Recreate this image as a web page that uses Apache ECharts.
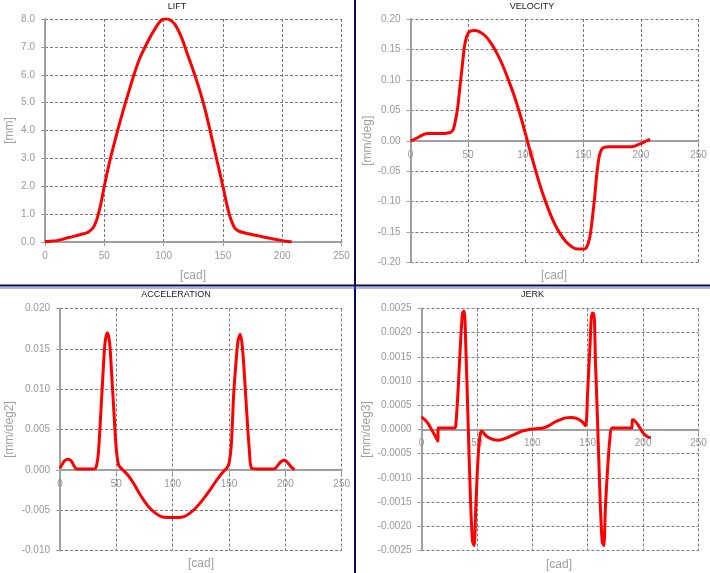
<!DOCTYPE html>
<html>
<head>
<meta charset="utf-8">
<script src="https://cdn.jsdelivr.net/npm/echarts@6/dist/echarts.min.js"></script>
<style>
html,body{margin:0;padding:0;background:#fff;}
#chart{width:710px;height:573px;}
</style>
</head>
<body>
<div id="chart"></div>
<script>
// ---- data ----
const liftCad = [0,5,10,15,20,25,30,35,37,40,42,44,47,50,55,60,65,70,75,80,85,90,95,98,100,103,106,110,115,120,125,130,135,140,145,150,153,156,158,160,163,166,170,175,180,185,190,195,200,205,208];
const liftMm  = [0.02,0.03,0.05,0.1,0.16,0.21,0.27,0.33,0.37,0.48,0.62,0.85,1.35,2.0,2.97,3.8,4.58,5.3,6.0,6.6,7.05,7.45,7.8,7.95,8.0,8.0,7.95,7.78,7.35,6.75,6.15,5.5,4.75,3.85,2.92,2.0,1.4,0.9,0.68,0.5,0.4,0.35,0.31,0.26,0.22,0.17,0.13,0.09,0.05,0.02,0.01];

const velCad = [0,3,6,9,12,15,20,25,30,33,35,37,39,41,43,45,47,49,51,55,60,65,70,75,80,85,90,95,100,105,110,115,120,125,130,135,140,145,148,150,152,154,156,158,160,162,164,166,168,172,180,190,194,198,202,205,208];
const velVal = [0,0.002,0.005,0.008,0.011,0.012,0.012,0.012,0.012,0.013,0.014,0.018,0.033,0.055,0.09,0.124,0.157,0.172,0.179,0.181,0.179,0.172,0.16,0.144,0.124,0.1,0.074,0.044,0.01,-0.025,-0.058,-0.088,-0.114,-0.136,-0.153,-0.166,-0.174,-0.178,-0.178,-0.178,-0.177,-0.17,-0.155,-0.125,-0.09,-0.05,-0.024,-0.014,-0.011,-0.01,-0.01,-0.01,-0.009,-0.006,-0.003,0.0,0.002];

const accCad = [0,2,4,7,10,12,15,20,25,30,32,34,36,38,40,42,44,46,48,50,52,55,60,65,70,75,80,85,90,95,100,105,110,115,120,125,130,135,140,145,148,150,152,154,156,158,160,162,164,166,168,170,175,180,185,190,193,196,199,202,205,208];
const accVal = [0.0002,0.0007,0.0011,0.0013,0.0011,0.0006,0.0001,0.0001,0.0001,0.0001,0.0003,0.002,0.0065,0.0115,0.0158,0.017,0.0158,0.0115,0.0068,0.0025,0.0006,0.0001,-0.0006,-0.0016,-0.0028,-0.0039,-0.0048,-0.0054,-0.0058,-0.0059,-0.0059,-0.0059,-0.0058,-0.0054,-0.0048,-0.004,-0.0031,-0.0021,-0.0011,-0.0002,0.0002,0.0008,0.003,0.009,0.013,0.016,0.0168,0.015,0.011,0.0065,0.0025,0.0002,0.0001,0.0001,0.0001,0.0001,0.0005,0.001,0.0012,0.0009,0.0004,0.0];

const jerkCad = [0,3,6,9,12,14.8,15,20,25,30,31,33,35,37,38.5,40,42,44,46,47.5,49,51,53,54.5,57,60,65,70,75,80,85,90,95,100,105,110,115,120,125,130,135,140,145,148,150,152,154,155.5,157,159,161,163,164.5,166,168,170,172,180,190,190.2,192,195,198,201,204,207];
const jerkVal = [0.00026,0.0002,0.00012,0.0,-0.00012,-0.00024,0.00003,0.00003,0.00003,0.00003,0.0001,0.0008,0.0017,0.0024,0.00245,0.0017,0.0002,-0.0013,-0.0023,-0.0024,-0.0016,-0.0006,-0.0001,-0.00003,-0.0001,-0.00016,-0.00021,-0.00022,-0.00019,-0.00014,-0.00009,-0.00004,-0.00001,0.00001,0.00002,0.00003,0.00008,0.00015,0.0002,0.00024,0.00025,0.00023,0.00016,0.00008,0.0008,0.0017,0.0024,0.0024,0.0014,0.0001,-0.0013,-0.0023,-0.0024,-0.0016,-0.0008,-0.0002,0.00003,0.00003,0.00003,0.0002,0.00019,0.00011,0.0,-0.0001,-0.00015,-0.00017];

const panelTitles = ['LIFT','VELOCITY','ACCELERATION','JERK'];
const yNames = ['[mm]','[mm/deg]','[mm/deg2]','[mm/deg3]'];
const xName = '[cad]';
const yMin = [0,-0.2,-0.01,-0.0025];
const yMax = [8,0.2,0.02,0.0025];
const yStep = [1,0.05,0.005,0.0005];
const yDecimals = [1,2,3,4];

// ---- layout ----
const FONT = '"Liberation Sans", Arial, sans-serif';
const grids = [
  {left:45, top:19, width:296.5, height:223},
  {left:410.5, top:19, width:288, height:243.5},
  {left:60, top:308.5, width:281.7, height:242},
  {left:421.5, top:308.5, width:277, height:242}
];
const nameGaps = [29, 36.5, 44, 48.5];
const titlePos = [[177,6.5],[532,6.5],[176,295],[532.5,295]];
const xNamePos = [[193,276],[554,276],[201,564],[559,565]];

const zip = (a,b) => a.map((v,i)=>[v,b[i]]);
const seriesData = [zip(liftCad,liftMm), zip(velCad,velVal), zip(accCad,accVal), zip(jerkCad,jerkVal)];

const axisColor = '#a0a0a0';
const gridLine = {show:true, lineStyle:{type:[3,2], color:'#7a7a7a', width:1}};

const xAxes = [], yAxes = [], series = [], graphics = [];
for (let i=0;i<4;i++){
  // place the category axis on the zero line of the value axis (axis-layout offset)
  const zeroOffset = -grids[i].height * (0 - yMin[i]) / (yMax[i] - yMin[i]);
  xAxes.push({
    type:'value', gridIndex:i, min:0, max:250, interval:50,
    position:'bottom', offset:zeroOffset,
    axisLine:{show:true, onZero:false, lineStyle:{color:axisColor, width:2}},
    axisTick:{show:true, length:4, lineStyle:{color:axisColor, width:1}},
    axisLabel:{color:'#999', fontSize:10, fontFamily:FONT, margin:9},
    splitLine:gridLine
  });
  const d = yDecimals[i];
  yAxes.push({
    type:'value', gridIndex:i, min:yMin[i], max:yMax[i], interval:yStep[i],
    name:yNames[i], nameLocation:'middle', nameRotate:90, nameGap:nameGaps[i],
    nameTextStyle:{color:axisColor, fontSize:12, fontFamily:FONT},
    axisLine:{show:true, onZero:false, lineStyle:{color:axisColor, width:2}},
    axisTick:{show:true, length:4, lineStyle:{color:axisColor, width:1}},
    axisLabel:{color:'#999', fontSize:10, fontFamily:FONT, margin:10,
      formatter: v => (Math.abs(v) < 1e-12 ? 0 : v).toFixed(d)},
    splitLine:gridLine
  });
  series.push({
    type:'line', xAxisIndex:i, yAxisIndex:i, data:seriesData[i],
    showSymbol:false, smooth:0.3, z:5,
    lineStyle:{color:'#ff0000', width:3}
  });
  graphics.push({type:'text', x:titlePos[i][0], y:titlePos[i][1],
    style:{text:panelTitles[i], fill:'#222', font:'9px '+FONT, textAlign:'center', textVerticalAlign:'middle', align:'center', verticalAlign:'middle'}});
  graphics.push({type:'text', x:xNamePos[i][0], y:xNamePos[i][1],
    style:{text:xName, fill:axisColor, font:'12px '+FONT, textAlign:'center', textVerticalAlign:'middle', align:'center', verticalAlign:'middle'}});
}
graphics.push({type:'rect', shape:{x:354, y:0, width:2, height:573}, style:{fill:'#0a0a5c'}, z:100});
graphics.push({type:'rect', shape:{x:0, y:284.5, width:710, height:2}, style:{fill:'#0a0a5c'}, z:100});
graphics.push({type:'rect', shape:{x:0, y:287.5, width:710, height:1}, style:{fill:'#6a6a9a'}, z:100});

const chart = echarts.init(document.getElementById('chart'), null, {renderer:'canvas'});
chart.setOption({
  animation:false,
  backgroundColor:'#ffffff',
  grid:grids,
  xAxis:xAxes,
  yAxis:yAxes,
  series:series,
  graphic:graphics
});
</script>
</body>
</html>
